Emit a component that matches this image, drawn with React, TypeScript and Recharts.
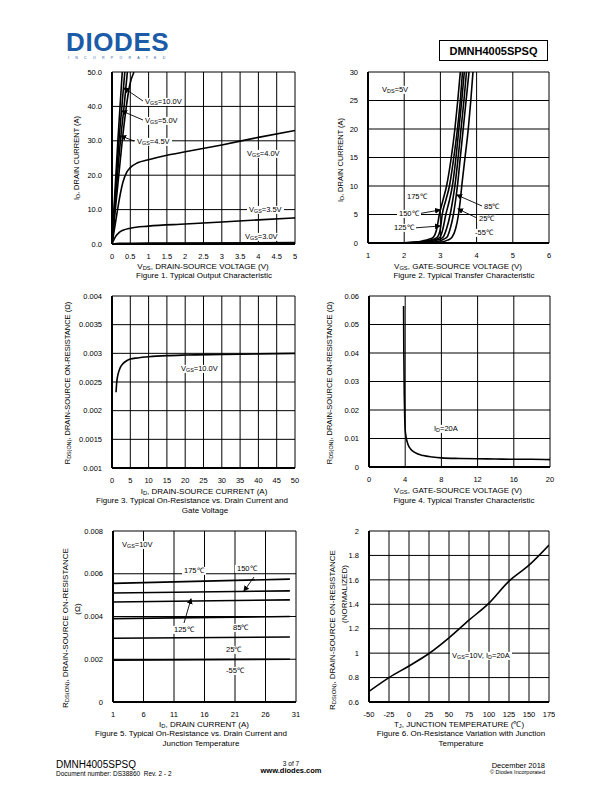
import { LineChart, Line, XAxis, YAxis, CartesianGrid } from 'recharts'

const FONT = '"Liberation Sans", Arial, Helvetica, sans-serif'

// Figure 1: V_DS (V) -> I_D (A)
const f1Vgs10 = [[0, 0], [0.05, 9.5], [0.1, 19], [0.16, 30], [0.22, 40], [0.28, 50]]
const f1VgsMid = [[0, 0], [0.1, 16], [0.19, 30], [0.27, 40], [0.35, 50]]
const f1Vgs5 = [[0, 0], [0.1, 13.5], [0.23, 30], [0.33, 40], [0.42, 50]]
const f1Vgs45 = [[0, 0], [0.1, 11], [0.2, 21.5], [0.28, 30], [0.38, 39], [0.48, 46], [0.6, 50]]
const f1Vgs4 = [[0, 0], [0.1, 6.5], [0.2, 13], [0.3, 18], [0.4, 20.8], [0.5, 22.2], [0.7, 23.6], [1, 24.5], [1.5, 25.8], [2, 26.8], [3, 28.8], [4, 31], [5, 33]]
const f1Vgs35 = [[0, 0], [0.1, 2.2], [0.2, 3.4], [0.3, 4], [0.5, 4.6], [1, 5.2], [2, 5.8], [3, 6.4], [4, 7], [5, 7.6]]
const f1Vgs3 = [[0, 0], [0.2, 0.2], [1, 0.3], [5, 0.4]]
const f1XTicks = [0, 0.5, 1, 1.5, 2, 2.5, 3, 3.5, 4, 4.5, 5]
const f1YTicks = [0, 10, 20, 30, 40, 50]

// Figure 2: V_GS (V) -> I_D (A)
const f2T175 = [[1.35, 0], [2.0, 0.05], [2.3, 0.15], [2.5, 0.35], [2.7, 0.7], [2.8, 1], [2.9, 2.5], [2.97, 5], [3.07, 7.5], [3.17, 10], [3.3, 15], [3.4, 20], [3.48, 25], [3.55, 30]]
const f2T150 = [[1.35, 0], [2.1, 0.05], [2.4, 0.15], [2.6, 0.35], [2.8, 0.65], [2.91, 1], [3.0, 2.5], [3.05, 5], [3.15, 7.5], [3.25, 10], [3.37, 15], [3.47, 20], [3.55, 25], [3.61, 30]]
const f2T125 = [[1.35, 0], [2.2, 0.05], [2.5, 0.15], [2.7, 0.35], [2.88, 0.65], [2.99, 1], [3.07, 2.5], [3.15, 5], [3.25, 7.5], [3.33, 10], [3.43, 15], [3.51, 20], [3.59, 25], [3.66, 30]]
const f2T85 = [[1.4, 0], [2.3, 0.03], [2.6, 0.12], [2.8, 0.3], [2.97, 0.65], [3.07, 1], [3.17, 2.5], [3.27, 5], [3.34, 7.5], [3.4, 10], [3.49, 15], [3.57, 20], [3.65, 25], [3.72, 30]]
const f2T25 = [[1.5, 0], [2.5, 0.03], [2.8, 0.15], [3.0, 0.4], [3.1, 0.7], [3.18, 1], [3.27, 2.5], [3.36, 5], [3.42, 7.5], [3.47, 10], [3.55, 15], [3.63, 20], [3.71, 25], [3.79, 30]]
const f2Tm55 = [[1.6, 0], [2.7, 0.02], [3.0, 0.12], [3.2, 0.5], [3.32, 1], [3.42, 2.5], [3.5, 5], [3.55, 7.5], [3.59, 10], [3.68, 15], [3.77, 20], [3.84, 25], [3.9, 30]]
const f2XTicks = [1, 2, 3, 4, 5, 6]
const f2YTicks = [0, 5, 10, 15, 20, 25, 30]

// Figure 3: I_D (A) -> R_DS(on) (ohm)
const f3Vgs10 = [[1.1, 0.00232], [1.3, 0.0025], [1.6, 0.00262], [2, 0.00271], [2.5, 0.00278], [3, 0.00282], [4, 0.00287], [5, 0.0029], [7, 0.00292], [10, 0.00294], [15, 0.00296], [20, 0.00297], [30, 0.00298], [40, 0.00299], [50, 0.003]]
const f3XTicks = [0, 5, 10, 15, 20, 25, 30, 35, 40, 45, 50]
const f3YTicks = [0.001, 0.0015, 0.002, 0.0025, 0.003, 0.0035, 0.004]

// Figure 4: V_GS (V) -> R_DS(on) (ohm)
const f4Id20 = [[3.82, 0.0565], [3.85, 0.04], [3.9, 0.025], [3.95, 0.017], [4.0, 0.013], [4.1, 0.0105], [4.3, 0.008], [4.6, 0.0063], [5, 0.0052], [6, 0.004], [7, 0.0035], [8, 0.0032], [10, 0.003], [12, 0.0029], [14, 0.0028], [16, 0.0027], [18, 0.0027], [20, 0.0026]]
const f4XTicks = [0, 4, 8, 12, 16, 20]
const f4YTicks = [0, 0.01, 0.02, 0.03, 0.04, 0.05, 0.06]

// Figure 5: I_D (A) -> R_DS(on) (ohm) per junction temperature
const f5T175 = [[1, 0.00555], [30, 0.00575]]
const f5T150 = [[1, 0.0051], [30, 0.0052]]
const f5T125 = [[1, 0.00468], [30, 0.00478]]
const f5T85 = [[1, 0.0039], [30, 0.004]]
const f5T25 = [[1, 0.00298], [30, 0.00304]]
const f5Tm55 = [[1, 0.00196], [30, 0.002]]
const f5XTicks = [1, 6, 11, 16, 21, 26, 31]
const f5YTicks = [0, 0.002, 0.004, 0.006, 0.008]

// Figure 6: T_J (C) -> normalized R_DS(on)
const f6Norm = [[-50, 0.687], [-25, 0.8], [0, 0.895], [25, 0.997], [50, 1.125], [75, 1.27], [100, 1.41], [125, 1.59], [150, 1.72], [175, 1.885]]
const f6XTicks = [-50, -25, 0, 25, 50, 75, 100, 125, 150, 175]
const f6YTicks = [0.6, 0.8, 1, 1.2, 1.4, 1.6, 1.8, 2]

const pts = (a: number[][]) => a.map(([x, y]) => ({ x, y }))

const tickStyle = { fontSize: 7.5, fill: '#000', fontFamily: FONT }

const Panel = ({ left, top, w, h, xTicks, yTicks, series, yFmt, curve = 'monotone' }: any) => {
  const ml = 46, mt = 4, mr = 6, mb = 24
  return (
    <div style={{ position: 'absolute', left: left - ml, top: top - mt }}>
      <LineChart width={w + ml + mr} height={h + mt + mb} margin={{ top: mt, right: mr, left: 0, bottom: 0 }}>
        <CartesianGrid stroke="#000" strokeWidth={1} />
        <XAxis type="number" dataKey="x" domain={[xTicks[0], xTicks[xTicks.length - 1]]} ticks={xTicks} interval={0}
          height={mb} tickLine={false} tickSize={0} tickMargin={10} allowDataOverflow
          axisLine={{ stroke: '#000', strokeWidth: 2 }} tick={tickStyle} />
        <YAxis type="number" domain={[yTicks[0], yTicks[yTicks.length - 1]]} ticks={yTicks} interval={0}
          width={ml} tickLine={false} tickSize={0} tickMargin={10} allowDataOverflow tickFormatter={yFmt}
          axisLine={{ stroke: '#000', strokeWidth: 2 }} tick={tickStyle} />
        {series.map((s: number[][], i: number) => (
          <Line key={i} data={pts(s)} dataKey="y" type={curve} stroke="#000" strokeWidth={1.6}
            dot={false} isAnimationActive={false} />
        ))}
      </LineChart>
    </div>
  )
}

const S = ({ children }: any) => (
  <sub style={{ fontSize: '0.72em', verticalAlign: '-0.3em', lineHeight: 0 }}>{children}</sub>
)

const T = ({ x, y, size = 7.5, anchor = 'start', bg, bold, rotate, children }: any) => {
  const tx = anchor === 'middle' ? '-50%' : anchor === 'end' ? '-100%' : '0'
  return (
    <div style={{
      position: 'absolute', left: x, top: y, whiteSpace: 'nowrap', fontFamily: FONT, fontSize: size,
      lineHeight: 1.1, color: '#000', fontWeight: bold ? 'bold' : 'normal',
      background: bg ? '#fff' : 'transparent', padding: bg ? '0 2px' : 0,
      transform: rotate ? 'translate(-50%,-50%) rotate(-90deg)' : `translate(${tx},-50%)`,
    }}>{children}</div>
  )
}

const RDS = () => <>R<S>DS(ON)</S>, DRAIN-SOURCE ON-RESISTANCE</>

export default function App() {
  return (
    <div style={{ position: 'absolute', left: 0, top: 0, width: 612, height: 792, background: '#fff', overflow: 'hidden' }}>
      {/* header */}
      <div style={{ position: 'absolute', left: 66, top: 27, fontFamily: FONT, fontWeight: 900, fontSize: 26, color: '#1c5ba7', letterSpacing: 0.6 }}>DIODES</div>
      <div style={{ position: 'absolute', left: 68, top: 56, fontFamily: FONT, fontSize: 3.5, color: '#1c5ba7', letterSpacing: 6.3 }}>INCORPORATED</div>
      <div style={{ position: 'absolute', left: 439, top: 40, width: 107, height: 19, border: '1px solid #000', fontFamily: FONT, fontWeight: 'bold', fontSize: 11, display: 'flex', alignItems: 'center', justifyContent: 'center' }}>DMNH4005SPSQ</div>

      <Panel left={112} top={72} w={183} h={172} xTicks={f1XTicks} yTicks={f1YTicks} yFmt={(v: number) => v.toFixed(1)}
        series={[f1Vgs10, f1VgsMid, f1Vgs5, f1Vgs45, f1Vgs4, f1Vgs35, f1Vgs3]} />
      <Panel left={368} top={72} w={181} h={171} xTicks={f2XTicks} yTicks={f2YTicks}
        series={[f2T175, f2T150, f2T125, f2T85, f2T25, f2Tm55]} />
      <Panel left={112} top={296} w={183} h={172} xTicks={f3XTicks} yTicks={f3YTicks} series={[f3Vgs10]} />
      <Panel left={369} top={296} w={181} h={171} xTicks={f4XTicks} yTicks={f4YTicks} series={[f4Id20]} />
      <Panel left={113} top={531} w={183} h={171} xTicks={f5XTicks} yTicks={f5YTicks} curve="linear"
        series={[f5T175, f5T150, f5T125, f5T85, f5T25, f5Tm55]} />
      <Panel left={369} top={531} w={180} h={171} xTicks={f6XTicks} yTicks={f6YTicks} series={[f6Norm]} />

      {/* pointer lines */}
      <svg width={612} height={792} style={{ position: 'absolute', left: 0, top: 0, pointerEvents: 'none' }}>
        <defs>
          <marker id="ah" markerWidth="6" markerHeight="6" refX="5" refY="3" orient="auto" markerUnits="userSpaceOnUse">
            <path d="M0,0 L6,3 L0,6 z" fill="#000" />
          </marker>
        </defs>
        <g stroke="#000" strokeWidth={0.9} markerEnd="url(#ah)">
          <line x1={143} y1={101} x2={124} y2={88} />
          <line x1={143} y1={120} x2={122} y2={111} />
          <line x1={134} y1={141} x2={121} y2={136} />
          <line x1={417} y1={214} x2={440} y2={210} />
          <line x1={413} y1={228} x2={440} y2={226} />
          <line x1={482} y1={206} x2={457} y2={195} />
          <line x1={477} y1={218} x2={458} y2={209} />
          <line x1={254} y1={577} x2={244} y2={591} />
          <line x1={184} y1={623} x2={191} y2={599} />
        </g>
      </svg>

      {/* Figure 1 texts */}
      <T x={143} y={102} bg>V<S>GS</S>=10.0V</T>
      <T x={143} y={121} bg>V<S>GS</S>=5.0V</T>
      <T x={135} y={142} bg>V<S>GS</S>=4.5V</T>
      <T x={245} y={154} bg>V<S>GS</S>=4.0V</T>
      <T x={247} y={210} bg>V<S>GS</S>=3.5V</T>
      <T x={243} y={237} bg>V<S>GS</S>=3.0V</T>
      <T x={77} y={158} rotate>I<S>D</S>, DRAIN CURRENT (A)</T>
      <T x={203} y={267} size={8} anchor="middle">V<S>DS</S>, DRAIN-SOURCE VOLTAGE (V)</T>
      <T x={204} y={276} size={8} anchor="middle">Figure 1. Typical Output Characteristic</T>

      {/* Figure 2 texts */}
      <T x={380} y={90} bg>V<S>DS</S>=5V</T>
      <T x={405} y={197} bg>175℃</T>
      <T x={397} y={214} bg>150℃</T>
      <T x={392} y={228} bg>125℃</T>
      <T x={482} y={207} bg>85℃</T>
      <T x={477} y={219} bg>25℃</T>
      <T x={473} y={233} bg>-55℃</T>
      <T x={341} y={160} rotate>I<S>D</S>, DRAIN CURRENT (A)</T>
      <T x={458} y={267} size={8} anchor="middle">V<S>GS</S>, GATE-SOURCE VOLTAGE (V)</T>
      <T x={464} y={276} size={8} anchor="middle">Figure 2. Typical Transfer Characteristic</T>

      {/* Figure 3 texts */}
      <T x={179} y={369} bg>V<S>GS</S>=10.0V</T>
      <T x={68} y={383} rotate><RDS /> (Ω)</T>
      <T x={204} y={492} size={8} anchor="middle">I<S>D</S>, DRAIN-SOURCE CURRENT (A)</T>
      <T x={192} y={501} size={8} anchor="middle">Figure 3. Typical On-Resistance vs. Drain Current and</T>
      <T x={205} y={511} size={8} anchor="middle">Gate Voltage</T>

      {/* Figure 4 texts */}
      <T x={432} y={429} bg>I<S>D</S>=20A</T>
      <T x={330} y={383} rotate><RDS /> (Ω)</T>
      <T x={458} y={491} size={8} anchor="middle">V<S>GS</S>, GATE-SOURCE VOLTAGE (V)</T>
      <T x={464} y={501} size={8} anchor="middle">Figure 4. Typical Transfer Characteristic</T>

      {/* Figure 5 texts */}
      <T x={120} y={545} bg>V<S>GS</S>=10V</T>
      <T x={182} y={571} bg>175℃</T>
      <T x={235} y={569} bg>150℃</T>
      <T x={172} y={630} bg>125℃</T>
      <T x={231} y={628} bg>85℃</T>
      <T x={224} y={650} bg>25℃</T>
      <T x={224} y={671} bg>-55℃</T>
      <T x={66} y={628} rotate size={8}><RDS /></T>
      <T x={78} y={609} rotate size={8}>(Ω)</T>
      <T x={204} y={725} size={8} anchor="middle">I<S>D</S>, DRAIN CURRENT (A)</T>
      <T x={191} y={734} size={8} anchor="middle">Figure 5. Typical On-Resistance vs. Drain Current and</T>
      <T x={201} y={744} size={8} anchor="middle">Junction Temperature</T>

      {/* Figure 6 texts */}
      <T x={450} y={656} bg>V<S>GS</S>=10V, I<S>D</S>=20A</T>
      <T x={333} y={630} rotate size={8}><RDS /></T>
      <T x={345} y={594} rotate size={8}>(NORMALIZED)</T>
      <T x={459} y={725} size={8} anchor="middle">T<S>J</S>, JUNCTION TEMPERATURE (℃)</T>
      <T x={461} y={734} size={8} anchor="middle">Figure 6. On-Resistance Variation with Junction</T>
      <T x={461} y={744} size={8} anchor="middle">Temperature</T>

      {/* footer */}
      <T x={56} y={764} size={10}>DMNH4005SPSQ</T>
      <T x={56} y={773.5} size={6.5}>Document number: DS38860&nbsp; Rev. 2 - 2</T>
      <T x={291} y={764} size={6.5} anchor="middle">3 of 7</T>
      <T x={291} y={771} size={7.5} anchor="middle" bold>www.diodes.com</T>
      <T x={545} y={766} size={7.5} anchor="end">December 2018</T>
      <T x={545} y={772} size={5.5} anchor="end">© Diodes Incorporated</T>
    </div>
  )
}
